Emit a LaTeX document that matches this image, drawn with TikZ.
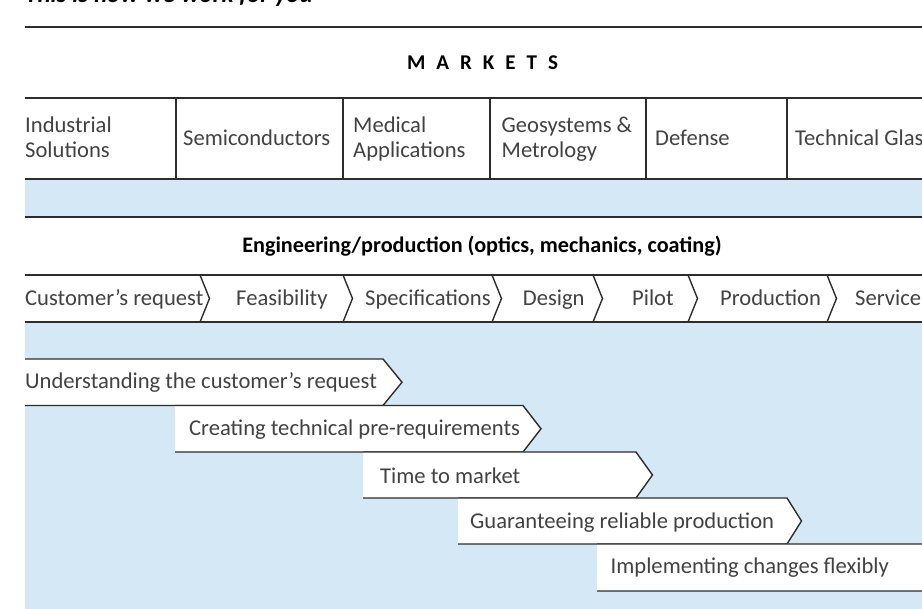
\documentclass[tikz,border=0pt]{standalone}
\usepackage{fontspec}
\setmainfont{Carlito}
\definecolor{band}{RGB}{212,232,245}
\definecolor{ink}{RGB}{45,45,45}
\definecolor{txt}{RGB}{66,66,66}
\newcommand{\stagger}[5]{%
  \fill[abox] (#1,#2) -- (#3,#2) -- (#3+#5,{(#2+#4)/2}) -- (#3,#4) -- (#1,#4) -- cycle;
  \draw[sep] (#1,#2) -- (#3,#2) -- (#3+#5,{(#2+#4)/2}) -- (#3,#4) -- (#1,#4);}
\begin{document}
\begin{tikzpicture}[x=1pt,y=-1pt,
  rule/.style={draw=ink,line width=1.7pt},
  sep/.style={draw=ink,line width=1.4pt,line join=miter},
  lbl/.style={anchor=base west,inner sep=0pt,text=txt,font=\fontsize{22.6}{26}\selectfont},
  head/.style={anchor=base,inner sep=0pt,text=black,font=\fontsize{22.2}{26}\selectfont\bfseries},
  abox/.style={fill=white}]
\clip (0,0) rectangle (922,609);
\fill[white] (0,0) rectangle (922,609);
% title (cut off at top)
\node[anchor=base west,inner sep=0pt,text=black,font=\fontsize{25}{28}\selectfont\bfseries\itshape] (title) at (25,2.2) {This is how we work for you};
\draw[rule] (25,27) -- (922,27);
% markets
\node[head,font=\fontsize{21}{26}\selectfont\bfseries] (markets) at (482.5,70) {M\hspace{11pt}A\hspace{11pt}R\hspace{11pt}K\hspace{11pt}E\hspace{11pt}T\hspace{11pt}S};
\fill[band] (25,179) rectangle (922,217);
\draw[rule] (25,98) -- (922,98);
\draw[rule] (25,179) -- (922,179);
\draw[rule] (25,217) -- (922,217);
\foreach \x in {176,343,490,646,787} \draw[sep] (\x,98) -- (\x,179);
\node[lbl] (ind1) at (25,132.5) {Industrial};
\node[lbl] (ind2) at (25,157.5) {Solutions};
\node[lbl] (semi) at (183,145.5) {Semiconductors};
\node[lbl] (med1) at (353,132.5) {Medical};
\node[lbl] (med2) at (353,157.5) {Applications};
\node[lbl] (geo1) at (501.5,132.5) {Geosystems \&};
\node[lbl] (geo2) at (501.5,157.5) {Metrology};
\node[lbl] (def) at (655,145.5) {Defense};
\node[lbl] (tech) at (795,145.5) {Technical Glass};
% engineering
\node[head] (eng) at (482,252.5) {Engineering/production (optics, mechanics, coating)};
% blue lower region
\fill[band] (25,322) rectangle (922,609);
% chevron row
\draw[rule] (25,275) -- (922,275);
\draw[rule] (25,322) -- (922,322);
\foreach \x in {200,343,492,593,688,827}
  \draw[sep] (\x,275) -- (\x+9.5,298.5) -- (\x,322);
\node[lbl] (c1) at (25,305.5) {Customer’s request};
\node[lbl] (c2) at (236,305.5) {Feasibility};
\node[lbl] (c3) at (365,305.5) {Specifications};
\node[lbl] (c4) at (522.7,305.5) {Design};
\node[lbl] (c5) at (632,305.5) {Pilot};
\node[lbl] (c6) at (720,305.5) {Production};
\node[lbl] (c7) at (855,305.5) {Service};
% staggered arrows
\stagger{25}{359}{383}{405.5}{19}
\stagger{175}{405.5}{523}{452}{18}
\stagger{363}{452}{636}{498}{16.5}
\stagger{458}{498}{787}{544}{14.5}
\stagger{597}{544}{940}{591}{15}
\node[lbl] (s1) at (25,389) {Understanding the customer’s request};
\node[lbl] (s2) at (189,435.5) {Creating technical pre-requirements};
\node[lbl] (s3) at (380,483.5) {Time to market};
\node[lbl] (s4) at (470,528.5) {Guaranteeing reliable production};
\node[lbl] (s5) at (610.5,573.5) {Implementing changes flexibly};
\end{tikzpicture}
\end{document}
